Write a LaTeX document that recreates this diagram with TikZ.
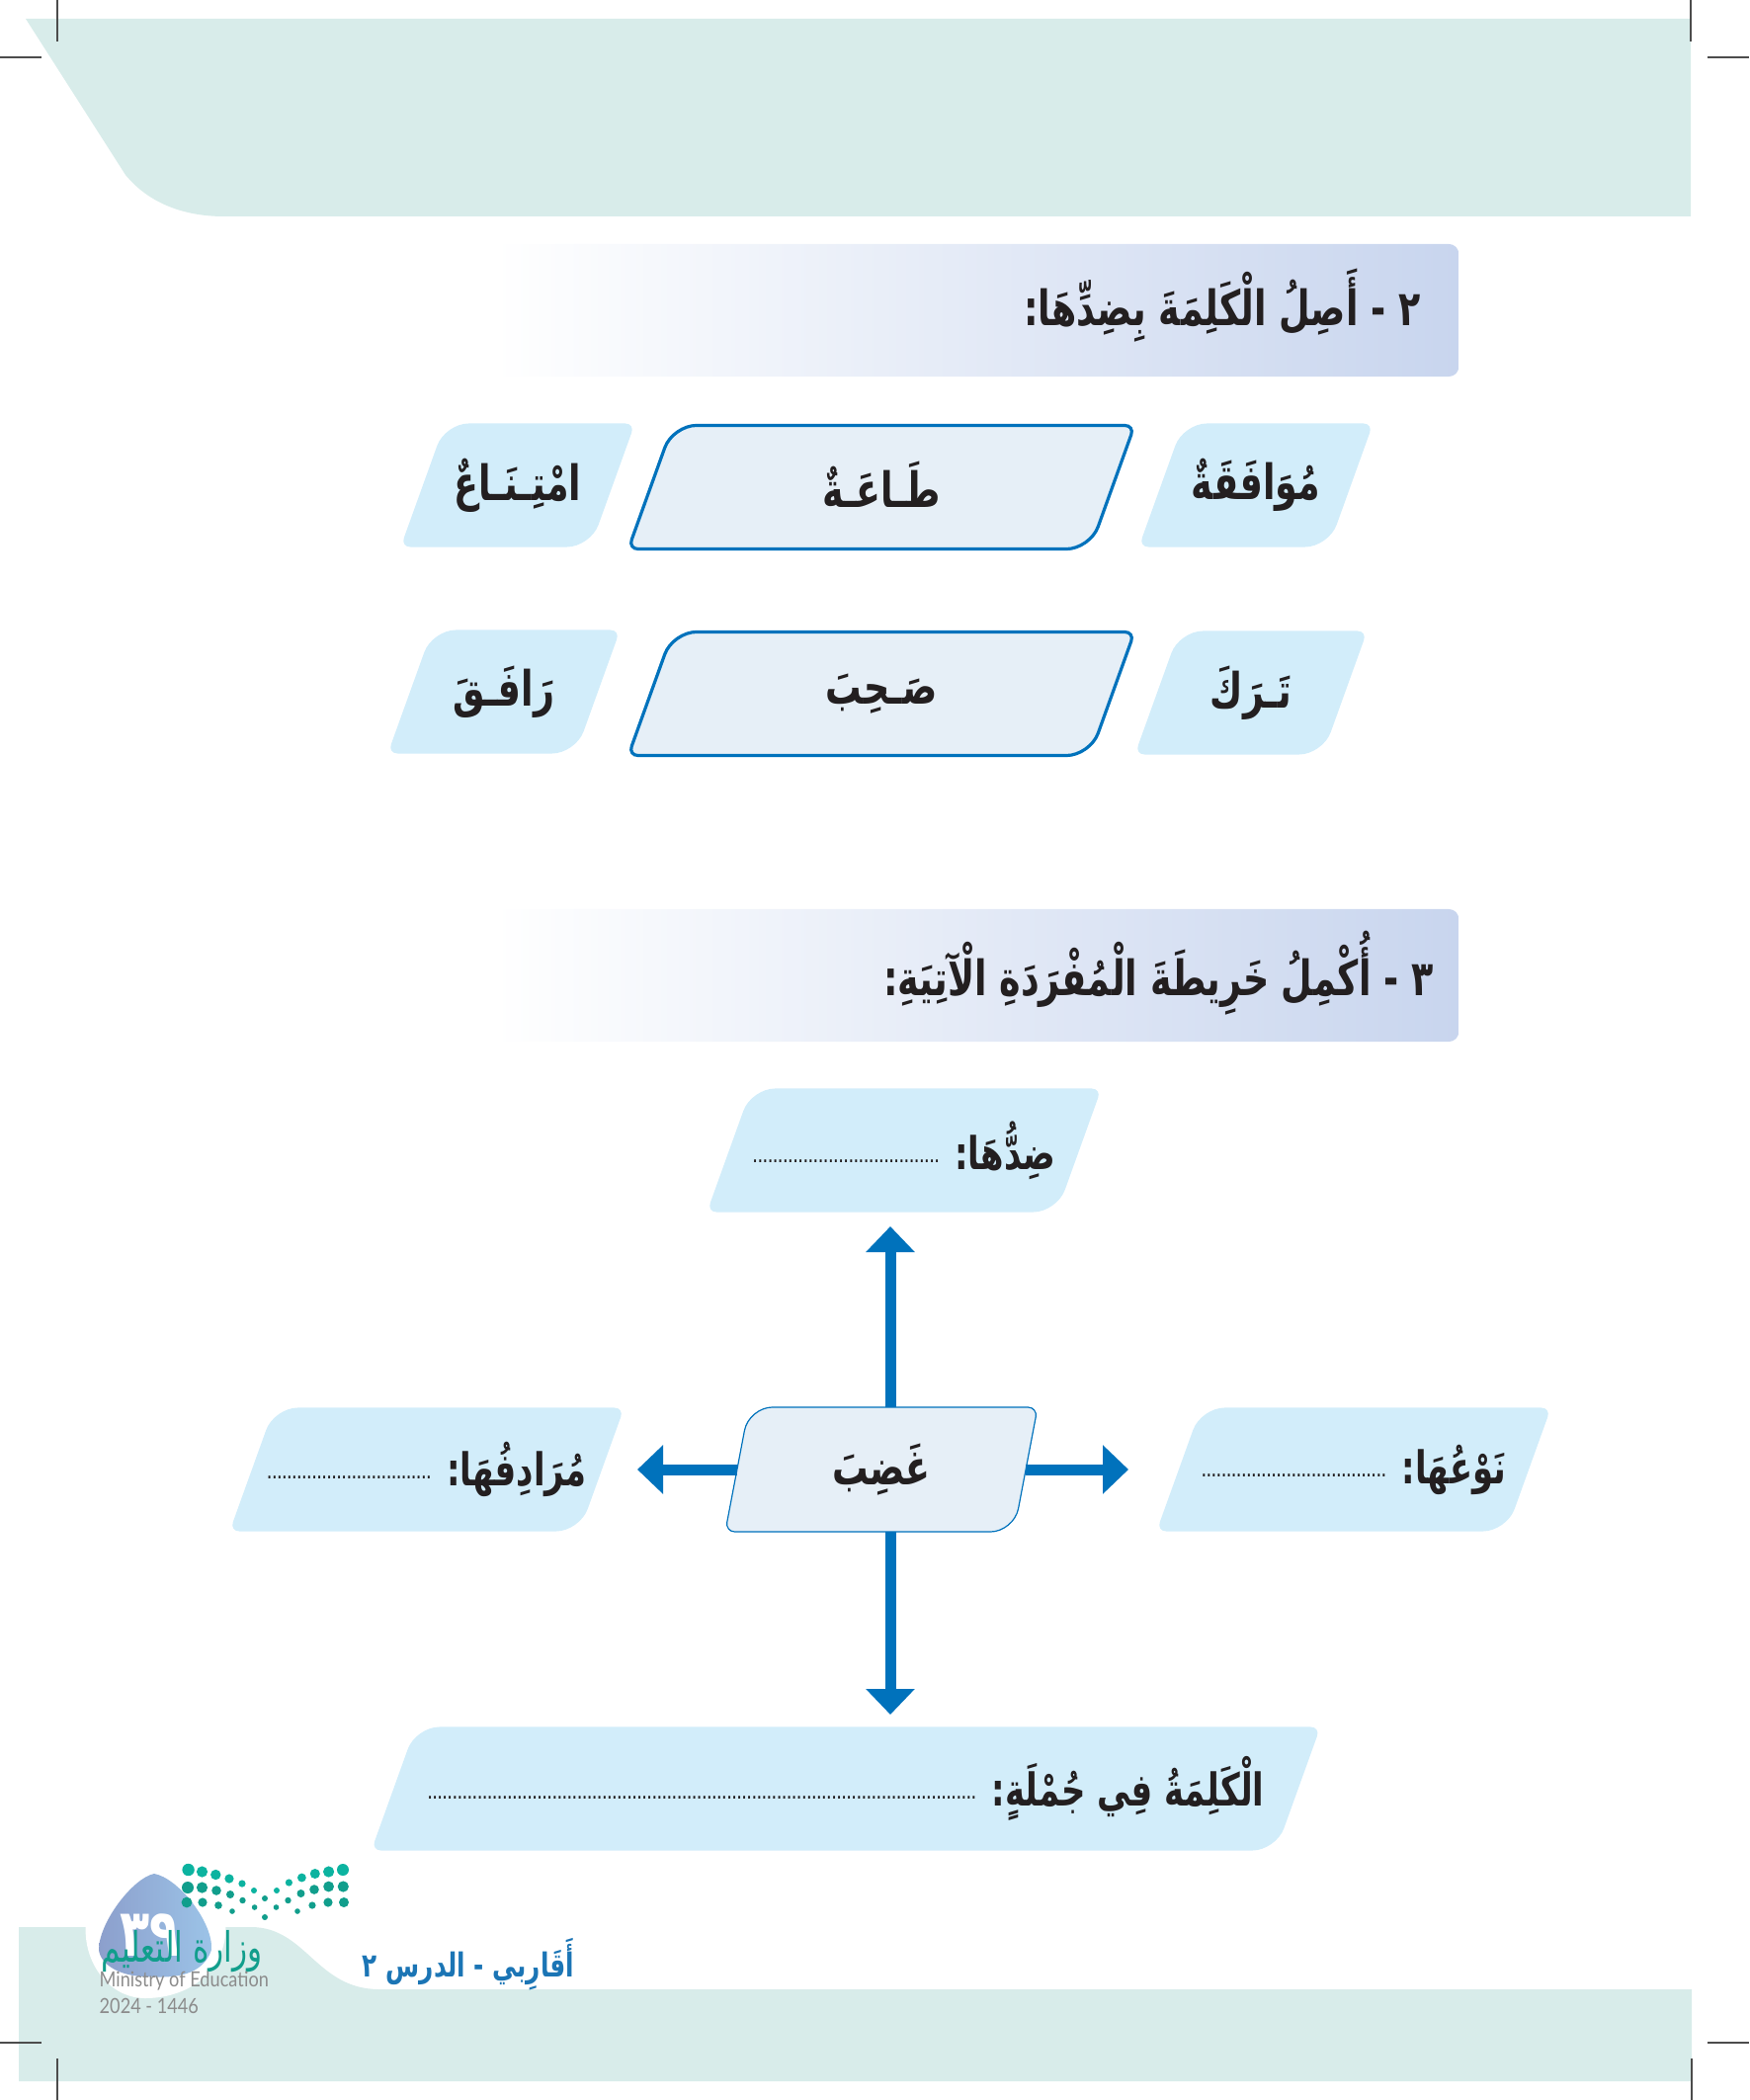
\documentclass[tikz,border=0pt]{standalone}
\usepackage{fontspec}
\usepackage{xcolor}
\usepackage{tikz}
\usetikzlibrary{
  arrows.meta,
  positioning,
  calc,
  backgrounds
}
\TeXXeTstate=1
\newfontfamily\arabicfont[Script=Arabic,FakeStretch=0.74]{DejaVu Sans}
\newfontfamily\latinthin[FakeStretch=0.86]{Lato}
\definecolor{bandgreen}{HTML}{D8ECEA}
\definecolor{skyfill}{HTML}{D2EDFA}
\definecolor{palefill}{HTML}{E6EFF7}
\definecolor{barblue}{HTML}{C8D5EE}
\definecolor{linkblue}{HTML}{0072BC}
\definecolor{inkdark}{HTML}{231F20}
\definecolor{tealtop}{HTML}{0CB3A0}
\definecolor{tealmid}{HTML}{119E8C}
\definecolor{footblue}{HTML}{1B75B5}
\definecolor{dropleft}{HTML}{8C9FCC}
\definecolor{dropright}{HTML}{9CC4E8}
\newcommand{\ar}[1]{\beginR #1\endR}
\newcommand{\up}[1]{\raisebox{.05cm}{#1}}
\newcommand{\gapdots}[1]{\raisebox{.07cm}{\hbox to #1{\xleaders\hbox to .05cm{\hss\fontsize{4.2}{5}\selectfont.\hss}\hfil}}}

\begin{document}
\begin{tikzpicture}[
  x=0.01cm, y=-0.01cm,
  skew/.style 2 args = {
    rectangle, inner sep=0pt, outer sep=0pt,
    append after command={\pgfextra{\begin{pgfonlayer}{background}
      \path[#1]
        ($(\tikzlastnode.south west)!.5!(\tikzlastnode.south east)$)
        [rounded corners=.1cm] -- (\tikzlastnode.south west)
        [rounded corners=.24cm] -- ([xshift=#2]\tikzlastnode.north west)
        [rounded corners=.1cm] -- (\tikzlastnode.north east)
        [rounded corners=.24cm] -- ([xshift=-#2]\tikzlastnode.south east)
        [sharp corners] -- cycle;
    \end{pgfonlayer}}}
  },
  lbox/.style  = {skew={fill=skyfill}{.45cm}, minimum height=1.25cm, text=inkdark,
    font=\arabicfont\bfseries\fontsize{13}{15}\selectfont},
  wbox/.style  = {lbox, font=\arabicfont\bfseries\fontsize{14}{16}\selectfont},
  nbox/.style  = {skew={fill=palefill, draw=linkblue, line width=.032cm}{.45cm},
    minimum width=5.12cm, minimum height=1.25cm, text=inkdark,
    font=\arabicfont\bfseries\fontsize{14}{16}\selectfont},
  hbar/.style  = {rectangle, left color=white, right color=barblue, rounded corners=.1cm,
    minimum width=9.76cm, minimum height=1.34cm, inner sep=0pt},
  htxt/.style  = {text=inkdark, inner sep=0pt, font=\arabicfont\bfseries\fontsize{14}{16}\selectfont},
  arr/.style   = {-{Triangle[length=.26cm,width=.48cm]}, linkblue, line width=.11cm},
  greytxt/.style = {text=black!45, inner sep=0pt, font=\latinthin\fontsize{6}{7}\selectfont}
]
\useasboundingbox (0,0) rectangle (1770,2125);

% Bandas de pagina
\fill[bandgreen] (26,19) -- (1711,19) -- (1711,219) -- (227,219)
  .. controls (185,219) and (150,205) .. (127,177) -- cycle;
\fill[bandgreen] (19,1950) -- (254,1950)
  .. controls (310,1950) and (320,2013) .. (384,2013)
  -- (1712,2013) -- (1712,2106) -- (19,2106) -- cycle;

% Marcas de corte
\foreach \xa/\ya/\xb/\yb in {58/0/58/42, 0/58/42/58, 1711/0/1711/42, 1728/58/1770/58,
    0/2067/42/2067, 58/2083/58/2125, 1712/2083/1712/2125, 1728/2067/1770/2067}
  \draw[black!70, line width=.4pt] (\xa,\ya) -- (\xb,\yb);

% Ejercicio 2
\node[hbar] (hdr2) at (988,314) {};
\node[htxt, left=.39cm of hdr2.east, yshift=.05cm] (ttl2) {\ar{٢ - أَصِلُ الْكَلِمَةَ بِضِدِّهَا:}};

\node[wbox, minimum width=2.37cm] (mow) at (1271,491) {\ar{مُوَافَقَةٌ}};
\node[nbox]                       (taa) at (892,493)  {\up{\ar{طَـاعَـةٌ}}};
\node[wbox, minimum width=2.37cm] (imt) at (524,491)  {\ar{امْتِـنَـاعٌ}};
\node[wbox, minimum width=2.35cm] (trk) at (1266,701) {\up{\ar{تَـرَكَ}}};
\node[nbox]                       (shb) at (892,702)  {\ar{صَـحِبَ}};
\node[wbox, minimum width=2.35cm] (rfq) at (510,700)  {\up{\ar{رَافَـقَ}}};

% Ejercicio 3
\node[hbar] (hdr3) at (988,987) {};
\node[htxt, left=.26cm of hdr3.east, yshift=.02cm] (ttl3) {\ar{٣ - أُكْمِلُ خَرِيطَةَ الْمُفْرَدَةِ الْآتِيَةِ:}};

\node[lbox, minimum width=3.99cm] (didd) at (915,1164) {\up{\ar{ضِدُّهَا: \gapdots{1.89cm}}}};
\node[lbox, minimum width=3.99cm] (syn)  at (432,1487) {\ar{مُرَادِفُهَا: \gapdots{1.66cm}}};
\node[lbox, minimum width=3.99cm] (naw)  at (1370,1487) {\ar{نَوْعُهَا: \gapdots{1.87cm}}};
\node[lbox, minimum width=9.60cm] (sent) at (856,1810) {\ar{الْكَلِمَةُ فِي جُمْلَةٍ: \gapdots{5.55cm}}};
\node[skew={fill=palefill, draw=linkblue, line width=.012cm}{.24cm}, minimum width=3.16cm,
  minimum height=1.26cm, text=inkdark, font=\arabicfont\bfseries\fontsize{14}{16}\selectfont]
  (core) at (892,1487) {\ar{غَضِبَ}};

% Flechas del mapa
\coordinate (tipN) at (901,1241);
\coordinate (tipS) at (901,1735);
\coordinate (tipW) at (645,1487);
\coordinate (tipE) at (1142,1487);
\draw[arr] (tipN |- core.north) -- (tipN);
\draw[arr] (tipS |- core.south) -- (tipS);
\draw[arr] ([xshift=.12cm]core.west) -- (tipW);
\draw[arr] ([xshift=-.12cm]core.east) -- (tipE);

% Pie: numero de pagina y logo
\fill[white] (87,1945) .. controls (83,1985) and (110,2022) .. (147,2022)
  .. controls (195,2022) and (232,1990) .. (228,1945) -- cycle;
\shade[left color=dropleft, right color=dropright]
  (156,1896) .. controls (135,1900) and (100,1945) .. (100,1973)
  .. controls (102,1990) and (125,2000) .. (147,2000)
  .. controls (175,2002) and (205,2000) .. (214,1973)
  .. controls (216,1945) and (180,1900) .. (156,1896) -- cycle;
\node[text=white, inner sep=0pt, font=\arabicfont\bfseries\fontsize{19}{21}\selectfont] (pnum) at (152,1958) {\ar{٣٩}};

\foreach \px/\py/\pr in {190.6/1892/6.2, 204.5/1894/5.6, 218.3/1897/5.2, 232/1901/4.6, 245/1906/3.6, 257/1913/3,
    280/1913/3, 292.4/1905/3.6, 305.4/1900/4.4, 318.8/1896/5, 332.6/1894/5.6, 347/1892/6}
  \fill[tealtop] (\px,\py) circle[radius=\pr*0.01cm];
\foreach \px/\py/\pr in {190/1910/6, 204.5/1910/5.6, 219/1913/4.8, 233/1917/4, 245.5/1923/3.2, 257.6/1930/2.8,
    268/1921/3, 279.5/1930/2.8, 291.5/1923/3.2, 304.5/1916/4, 318/1912/4.8, 332.6/1909/5.4, 347.3/1909/5.6}
  \fill[tealmid] (\px,\py) circle[radius=\pr*0.01cm];
\foreach \px/\py/\pr in {189/1925/5.4, 205/1925/4.6, 221/1928/3.8, 235/1934/2.8, 268/1940/3, 301/1934/2.8, 316/1928/3.6, 332/1925/4.6, 348/1925/5}
  \fill[tealmid] (\px,\py) circle[radius=\pr*0.01cm];

\node[text=tealmid, inner sep=0pt, font=\arabicfont\fontsize{12}{14}\selectfont] (wzr) at (184,1975) {\ar{وزارة التعليم}};
\node[greytxt, anchor=west] (moe) at (100,2005) {Ministry of Education};
\node[greytxt, anchor=west] (yrs) at (100,2030) {2024 - 1446};
\node[text=footblue, inner sep=0pt, font=\arabicfont\bfseries\fontsize{9.5}{11}\selectfont] (foot) at (474,1988) {\ar{أَقَارِبي - الدرس ٢}};

\end{tikzpicture}
\end{document}
